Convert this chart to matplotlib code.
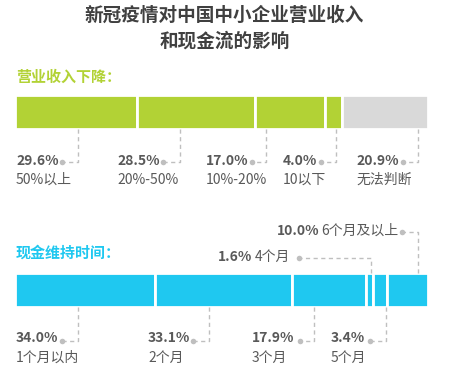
import matplotlib
matplotlib.use("Agg")
import matplotlib.pyplot as plt
import numpy as np

plt.rcParams['font.family'] = ['Noto Sans CJK SC', 'DejaVu Sans']

# ---- data ----
title = "新冠疫情对中国中小企业营业收入\n和现金流的影响"
rev_title = "营业收入下降："
rev_labels = ["50%以上", "20%-50%", "10%-20%", "10以下", "无法判断"]
rev_values = [29.6, 28.5, 17.0, 4.0, 20.9]
cash_title = "现金维持时间："
cash_labels = ["1个月以内", "2个月", "3个月", "4个月", "5个月", "6个月及以上"]
cash_values = [34.0, 33.1, 17.9, 1.6, 3.4, 10.0]

# ---- style / layout ----
GREEN = "#b2d235"
GREY_SEG = "#d9d9d9"
BLUE = "#1fc8f0"
TXT = "#595959"
LINE = "#bfbfbf"
rev_colors = [GREEN, GREEN, GREEN, GREEN, GREY_SEG]

W, H = 449, 379
X0, X1 = 15, 428
scale = (X1 - X0) / 100.0

fig = plt.figure(figsize=(W / 100, H / 100), dpi=100)
ax = fig.add_axes([0, 0, 1, 1])
ax.set_xlim(-X0 / scale, (W - X0) / scale)
ax.set_ylim(H, 0)
ax.axis('off')

def px(x):
    return (x - X0) / scale

fig.text(0.5, 1 - 28 / H, title, ha='center', va='center', fontsize=13.4,
         fontweight='bold', color='#404040', linespacing=1.45)

# headings
ax.text(px(16), 77, rev_title, fontsize=10.8, fontweight='bold', color=GREEN,
        va='center', ha='left')
ax.text(px(16), 253, cash_title, fontsize=10.8, fontweight='bold', color=BLUE,
        va='center', ha='left')

def draw_bar(values, colors, yc, h):
    lefts = np.concatenate([[0], np.cumsum(values)[:-1]])
    ax.barh(yc, values, left=lefts, height=h, color=colors, edgecolor='white',
            linewidth=2.0)
    return lefts

# ---- revenue bar ----
rev_lefts = draw_bar(rev_values, rev_colors, 112, 34)
rev_conn_x = [78, 180, 266, 336, 418]
rev_dot_x = [62, 163, 252, 321, 403]
rev_text_x = [16, 117, 206, 283, 356]
for v, lab, cx, dx, tx in zip(rev_values, rev_labels, rev_conn_x, rev_dot_x, rev_text_x):
    ax.plot([px(cx), px(cx), px(dx)], [129, 162, 162], ls=(0, (3, 2.5)), lw=1,
            color=LINE, solid_capstyle='butt')
    ax.plot(px(dx), 162, 'o', ms=4, color=LINE, mec='none')
    ax.text(px(tx), 161, f"{v:.1f}%", fontsize=10, fontweight='bold', color=TXT,
            va='center', ha='left')
    ax.text(px(tx), 180, lab, fontsize=10, color=TXT, va='center', ha='left')

# ---- cash bar ----
cash_colors = [BLUE] * len(cash_values)
draw_bar(cash_values, cash_colors, 290, 34)
below = [0, 1, 2, 4]
cash_conn_x = {0: 78, 1: 209, 2: 314, 4: 386}
cash_dot_x = {0: 62, 1: 193, 2: 300, 4: 370}
cash_text_x = {0: 16, 1: 148, 2: 252, 4: 331}
for i in below:
    cx, dx, tx = cash_conn_x[i], cash_dot_x[i], cash_text_x[i]
    ax.plot([px(cx), px(cx), px(dx)], [307, 341, 341], ls=(0, (3, 2.5)), lw=1,
            color=LINE)
    ax.plot(px(dx), 341, 'o', ms=4, color=LINE, mec='none')
    ax.text(px(tx), 338, f"{cash_values[i]:.1f}%", fontsize=10, fontweight='bold',
            color=TXT, va='center', ha='left')
    ax.text(px(tx), 358, cash_labels[i], fontsize=10, color=TXT, va='center', ha='left')

above = [3, 5]
up_conn_x = {3: 371, 5: 418}
up_y = {3: 258, 5: 232}
up_dot_x = {3: 299, 5: 402}
up_pct_x = {3: 218, 5: 277}
up_lab_x = {3: 255, 5: 321}
for i in above:
    cx, y, dx = up_conn_x[i], up_y[i], up_dot_x[i]
    ax.plot([px(cx), px(cx), px(dx)], [273, y, y], ls=(0, (3, 2.5)), lw=1,
            color=LINE)
    ax.plot(px(dx), y, 'o', ms=4, color=LINE, mec='none')
    ax.text(px(up_pct_x[i]), y - 1, f"{cash_values[i]:.1f}%", fontsize=10,
            fontweight='bold', color=TXT, va='center', ha='left')
    ax.text(px(up_lab_x[i]), y - 1, cash_labels[i], fontsize=10, color=TXT,
            va='center', ha='left')

fig.savefig("out.png", dpi=100, facecolor='white')
